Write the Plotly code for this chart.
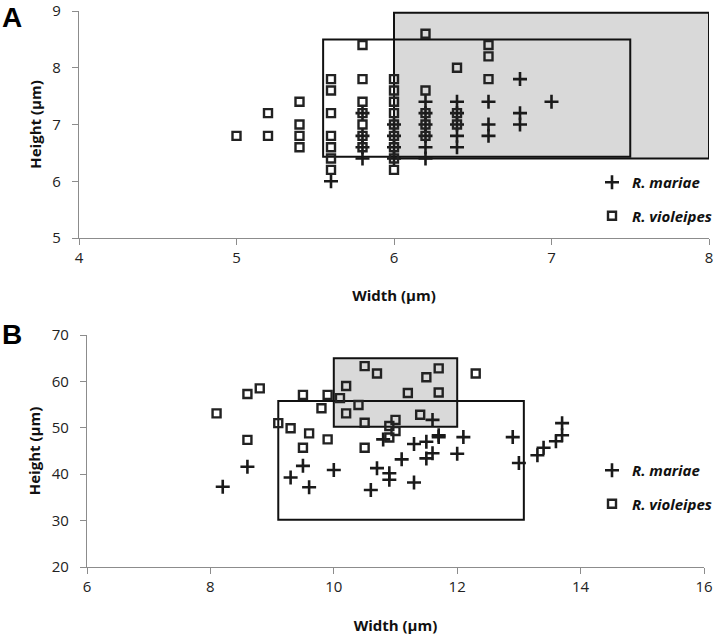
import plotly.graph_objects as go

# ---------- Panel A data (µm) ----------
a_mariae_w = [5.6,
              5.8, 5.8, 5.8, 5.8,
              6.0, 6.0, 6.0, 6.0,
              6.2, 6.2, 6.2, 6.2, 6.2, 6.2,
              6.4, 6.4, 6.4, 6.4, 6.4,
              6.6, 6.6, 6.6,
              6.8, 6.8, 6.8,
              7.0]
a_mariae_h = [6.0,
              7.2, 6.8, 6.6, 6.4,
              7.0, 6.8, 6.6, 6.4,
              7.4, 7.2, 7.0, 6.8, 6.6, 6.4,
              7.4, 7.2, 7.0, 6.8, 6.6,
              7.4, 7.0, 6.8,
              7.8, 7.2, 7.0,
              7.4]
a_viol_w = [5.0,
            5.2, 5.2,
            5.4, 5.4, 5.4, 5.4,
            5.6, 5.6, 5.6, 5.6, 5.6, 5.6, 5.6,
            5.8, 5.8, 5.8, 5.8, 5.8, 5.8, 5.8,
            6.0, 6.0, 6.0, 6.0, 6.0, 6.0, 6.0, 6.0, 6.0,
            6.2, 6.2, 6.2, 6.2, 6.2,
            6.4, 6.4, 6.4,
            6.6, 6.6, 6.6]
a_viol_h = [6.8,
            7.2, 6.8,
            7.4, 7.0, 6.8, 6.6,
            7.8, 7.6, 7.2, 6.8, 6.6, 6.4, 6.2,
            8.4, 7.8, 7.4, 7.2, 7.0, 6.8, 6.6,
            7.8, 7.6, 7.4, 7.2, 7.0, 6.8, 6.6, 6.4, 6.2,
            8.6, 7.6, 7.2, 7.0, 6.8,
            8.0, 7.2, 7.0,
            8.4, 8.2, 7.8]
# ranges drawn as boxes: [x0, x1, y0, y1]
a_mariae_box = [5.55, 7.5, 6.43, 8.5]
a_viol_box = [6.0, 8.0, 6.4, 8.97]

# ---------- Panel B data (µm) ----------
b_mariae_w = [8.2, 8.6, 9.3, 9.5, 9.6, 10.0, 10.6, 10.7, 10.8, 10.9, 10.9,
              11.1, 11.3, 11.3, 11.5, 11.5, 11.6, 11.6, 11.7, 11.7, 12.0,
              12.1, 12.9, 13.0, 13.3, 13.4, 13.6, 13.7, 13.7]
b_mariae_h = [37.3, 41.6, 39.3, 41.8, 37.2, 40.9, 36.6, 41.3, 47.5, 40.2, 38.8,
              43.2, 46.5, 38.2, 47.0, 43.4, 44.5, 51.7, 48.4, 48.0, 44.4,
              48.0, 48.0, 42.4, 44.1, 45.7, 47.1, 48.4, 51.0]
b_viol_w = [8.1, 8.6, 8.8, 8.6, 9.1, 9.3, 9.5, 9.5, 9.6, 9.8, 9.9, 9.9,
            10.1, 10.2, 10.2, 10.4, 10.5, 10.7, 10.5, 10.5, 10.9, 10.9,
            11.0, 11.0, 11.2, 11.4, 11.5, 11.7, 11.7, 12.3]
b_viol_h = [53.1, 57.3, 58.5, 47.4, 51.0, 49.9, 57.1, 45.7, 48.8, 54.2, 57.1, 47.5,
            56.4, 59.0, 53.1, 54.9, 63.3, 61.7, 51.1, 45.7, 50.4, 47.9,
            51.7, 49.3, 57.5, 52.8, 60.9, 62.8, 57.6, 61.7]
b_mariae_box = [9.1, 13.08, 30.2, 55.8]
b_viol_box = [10.0, 12.0, 50.2, 65.0]

species = ["R. mariae", "R. violeipes"]

FONT = "Open Sans"
DARK = "#1a1a1a"
plus_marker = dict(symbol="cross-thin-open", size=10, color=DARK,
                   line=dict(width=2.6, color=DARK))
sq_marker = dict(symbol="square-open", size=8, color="#222222",
                 line=dict(width=2.4, color="#222222"))

fig = go.Figure()

# Panel A traces
fig.add_trace(go.Scatter(x=a_mariae_w, y=a_mariae_h, mode="markers",
                         marker=plus_marker, name=f"<b><i>{species[0]}</i></b>",
                         xaxis="x", yaxis="y", legend="legend", legendgroup="a1"))
fig.add_trace(go.Scatter(x=a_viol_w, y=a_viol_h, mode="markers",
                         marker=sq_marker, name=f"<b><i>{species[1]}</i></b>",
                         xaxis="x", yaxis="y", legend="legend", legendgroup="a2"))
# Panel B traces
fig.add_trace(go.Scatter(x=b_mariae_w, y=b_mariae_h, mode="markers",
                         marker=plus_marker, name=f"<b><i>{species[0]}</i></b>",
                         xaxis="x2", yaxis="y2", legend="legend2", legendgroup="b1"))
fig.add_trace(go.Scatter(x=b_viol_w, y=b_viol_h, mode="markers",
                         marker=sq_marker, name=f"<b><i>{species[1]}</i></b>",
                         xaxis="x2", yaxis="y2", legend="legend2", legendgroup="b2"))

shapes = []
for xr, yr, gray_box, white_box in [("x", "y", a_viol_box, a_mariae_box),
                                     ("x2", "y2", b_viol_box, b_mariae_box)]:
    shapes.append(dict(type="rect", xref=xr, yref=yr,
                       x0=gray_box[0], x1=gray_box[1], y0=gray_box[2], y1=gray_box[3],
                       fillcolor="#d9d9d9", line=dict(color="#111111", width=2),
                       layer="below"))
    shapes.append(dict(type="rect", xref=xr, yref=yr,
                       x0=white_box[0], x1=white_box[1], y0=white_box[2], y1=white_box[3],
                       fillcolor="rgba(0,0,0,0)", line=dict(color="#111111", width=2),
                       layer="below"))

axis_common = dict(showgrid=False, zeroline=False, showline=True, linecolor="#8c8c8c",
                   linewidth=1.3, ticks="outside", ticklen=6, tickcolor="#8c8c8c",
                   tickfont=dict(family=FONT, size=15, color="#222222"),
                   automargin=False, ticklabeloverflow="allow")
title_font = dict(family=FONT, size=15, color="#111111")
legend_font = dict(family=FONT, size=15, color="#111111")

fig.update_layout(
    width=726, height=635,
    margin=dict(l=0, r=0, t=0, b=0),
    paper_bgcolor="white", plot_bgcolor="white",
    font=dict(family=FONT, color="#111111"),
    shapes=shapes,
    xaxis=dict(axis_common, domain=[79/726, 709/726], range=[4, 8], dtick=1,
               anchor="y", ticklabelstandoff=0,
               title=dict(text="<b>Width (μm)</b>", font=title_font, standoff=24)),
    yaxis=dict(axis_common, domain=[1-238/635, 1-11/635], range=[5, 9], dtick=1,
               anchor="x", ticklabelstandoff=8,
               title=dict(text="<b>Height (μm)</b>", font=title_font, standoff=7)),
    xaxis2=dict(axis_common, domain=[87/726, 704/726], range=[6, 16], dtick=2,
                anchor="y2", ticklabelstandoff=0,
                title=dict(text="<b>Width (μm)</b>", font=title_font, standoff=25)),
    yaxis2=dict(axis_common, domain=[1-567/635, 1-335/635], range=[20, 70], dtick=10,
                anchor="x2", ticklabelstandoff=8,
                title=dict(text="<b>Height (μm)</b>", font=title_font, standoff=7)),
    legend=dict(x=592/726, y=1-166/635, xanchor="left", yanchor="top",
                font=legend_font, bgcolor="rgba(0,0,0,0)",
                tracegroupgap=11, itemwidth=30),
    legend2=dict(x=592/726, y=1-454/635, xanchor="left", yanchor="top",
                 font=legend_font, bgcolor="rgba(0,0,0,0)",
                 tracegroupgap=11, itemwidth=30),
    annotations=[
        dict(text="<b>A</b>", x=0/726, y=1-0/635, xref="paper", yref="paper",
             xanchor="left", yanchor="top", showarrow=False,
             font=dict(family="Liberation Sans", size=28, color="#000000")),
        dict(text="<b>B</b>", x=0/726, y=1-317/635, xref="paper", yref="paper",
             xanchor="left", yanchor="top", showarrow=False,
             font=dict(family="Liberation Sans", size=28, color="#000000")),
    ],
)

fig.write_html("out.html", config={"displayModeBar": False},
               post_script="document.body.style.margin='0px';document.body.style.padding='0px';")
